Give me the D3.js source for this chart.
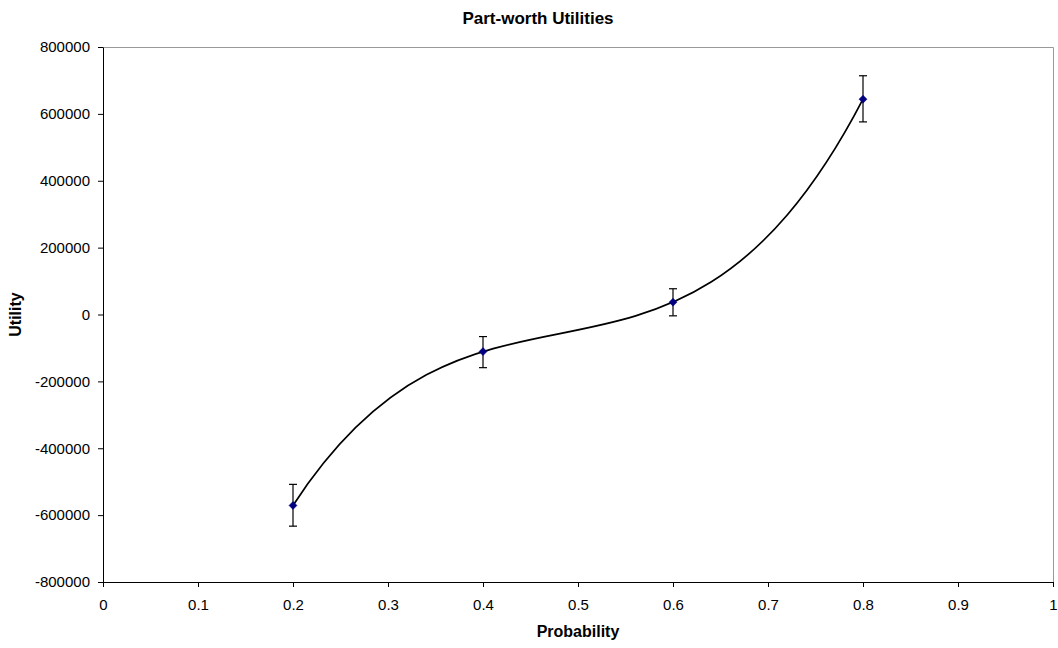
<!DOCTYPE html>
<meta charset="utf-8">
<style>
body { margin: 0; background: #fff; }
svg text { font-family: "Liberation Sans", Arial, sans-serif; fill: #000; }
.axis text { font-size: 15px; }
.axis path, .axis line { stroke: #000; }
</style>
<svg width="1058" height="648"></svg>
<script src="https://cdn.jsdelivr.net/npm/d3@7"></script>
<script>

// data
var probability = [0.2, 0.4, 0.6, 0.8];
var utility = [-571000, -111000, 37000, 644000];
var errPlus = [63000, 45000, 40000, 70000];
var errMinus = [62000, 48000, 41000, 68000];
var xTicks = [0, 0.1, 0.2, 0.3, 0.4, 0.5, 0.6, 0.7, 0.8, 0.9, 1];
var yTicks = [-800000, -600000, -400000, -200000, 0, 200000, 400000, 600000, 800000];

var svg = d3.select("svg"),
    margin = {top: 47, right: 5, bottom: 66, left: 103},
    width = +svg.attr("width") - margin.left - margin.right,
    height = +svg.attr("height") - margin.top - margin.bottom;

var x = d3.scaleLinear().domain([0, 1]).range([0, width]);
var y = d3.scaleLinear().domain([-800000, 800000]).range([height, 0]);

// curve: single cubic through four points (drawn as one bezier)
function curveCubicThrough(context) {
  var pts = [];
  return {
    areaStart: function() {}, areaEnd: function() {},
    lineStart: function() { pts = []; },
    point: function(px, py) { pts.push([px, py]); },
    lineEnd: function() {
      if (pts.length !== 4) {
        pts.forEach(function(p, i) { i ? context.lineTo(p[0], p[1]) : context.moveTo(p[0], p[1]); });
        return;
      }
      function ctrl(k) {
        var a = 27 * pts[1][k] - 8 * pts[0][k] - pts[3][k],
            b = 27 * pts[2][k] - pts[0][k] - 8 * pts[3][k];
        return [(2 * a - b) / 18, (2 * b - a) / 18];
      }
      var cx = ctrl(0), cy = ctrl(1);
      context.moveTo(pts[0][0], pts[0][1]);
      context.bezierCurveTo(cx[0], cy[0], cx[1], cy[1], pts[3][0], pts[3][1]);
    }
  };
}

var g = svg.append("g").attr("transform", "translate(" + margin.left + "," + margin.top + ")");

// plot frame (top and right in grey)
g.append("path")
    .attr("d", "M0,0.5H" + (width + 0.5) + "V" + height)
    .attr("fill", "none")
    .attr("stroke", "#999")
    .attr("stroke-width", 1);

g.append("g")
    .attr("class", "axis")
    .attr("transform", "translate(0," + height + ")")
    .call(d3.axisBottom(x).tickValues(xTicks).tickSize(5).tickSizeOuter(0).tickFormat(d3.format("")))
    .call(function(a) { a.selectAll("text").attr("y", 0).attr("dy", "28"); });

g.append("g")
    .attr("class", "axis")
    .call(d3.axisLeft(y).tickValues(yTicks).tickSize(5).tickSizeOuter(0).tickFormat(function(d) { return String(d); }))
    .call(function(a) { a.selectAll("text").attr("x", -13); });

var pts = probability.map(function(p, i) {
  return {x: p, y: utility[i], hi: utility[i] + errPlus[i], lo: utility[i] - errMinus[i]};
});

// smoothed line
g.append("path")
    .datum(pts)
    .attr("fill", "none")
    .attr("stroke", "#000")
    .attr("stroke-width", 1.7)
    .attr("d", d3.line()
        .x(function(d) { return x(d.x); })
        .y(function(d) { return y(d.y); })
        .curve(curveCubicThrough));

// error bars
var eb = g.append("g").attr("stroke", "#000").attr("stroke-width", 1.2)
  .selectAll("g").data(pts).enter().append("g");
eb.append("line")
    .attr("x1", function(d) { return x(d.x); }).attr("x2", function(d) { return x(d.x); })
    .attr("y1", function(d) { return y(d.hi); }).attr("y2", function(d) { return y(d.lo); });
eb.append("line")
    .attr("x1", function(d) { return x(d.x) - 4; }).attr("x2", function(d) { return x(d.x) + 4; })
    .attr("y1", function(d) { return y(d.hi); }).attr("y2", function(d) { return y(d.hi); });
eb.append("line")
    .attr("x1", function(d) { return x(d.x) - 4; }).attr("x2", function(d) { return x(d.x) + 4; })
    .attr("y1", function(d) { return y(d.lo); }).attr("y2", function(d) { return y(d.lo); });

// diamond markers
g.append("g").selectAll("path").data(pts).enter().append("path")
    .attr("transform", function(d) { return "translate(" + x(d.x) + "," + y(d.y) + ")"; })
    .attr("d", "M0,-4L4,0L0,4L-4,0Z")
    .attr("fill", "#000080")
    .attr("stroke", "#000080")
    .attr("stroke-width", 0.5);

// titles
svg.append("text")
    .attr("x", 538).attr("y", 24)
    .attr("text-anchor", "middle")
    .style("font-size", "17px").style("font-weight", "bold")
    .text("Part-worth Utilities");

svg.append("text")
    .attr("x", 578).attr("y", 637)
    .attr("text-anchor", "middle")
    .style("font-size", "16px").style("font-weight", "bold")
    .text("Probability");

svg.append("text")
    .attr("transform", "translate(21," + (margin.top + height / 2) + ") rotate(-90)")
    .attr("text-anchor", "middle")
    .style("font-size", "16px").style("font-weight", "bold")
    .text("Utility");

</script>
